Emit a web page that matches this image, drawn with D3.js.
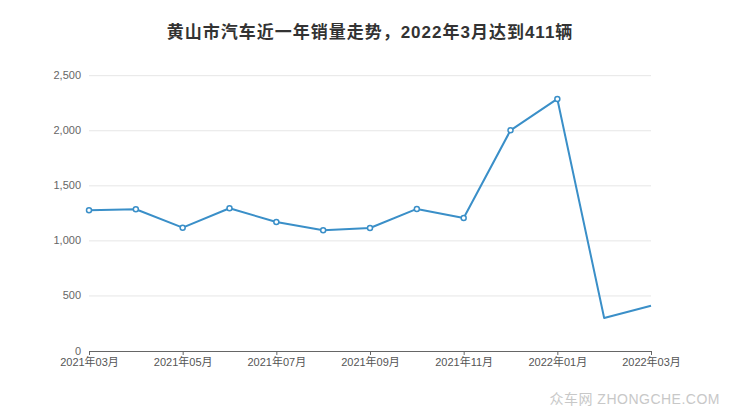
<!DOCTYPE html>
<html><head><meta charset="utf-8">
<script src="https://cdn.jsdelivr.net/npm/d3@7"></script>
<style>body{margin:0;background:#fff}svg{display:block}</style>
</head><body><svg id="c" width="740" height="417"></svg>
<script>
const months = ["2021年03月","2021年04月","2021年05月","2021年06月","2021年07月","2021年08月","2021年09月","2021年10月","2021年11月","2021年12月","2022年01月","2022年02月","2022年03月"];
const sales = [1278,1287,1120,1296,1172,1096,1117,1290,1208,2004,2289,300,411];
const yTicks = [0,500,1000,1500,2000,2500];
const title = "黄山市汽车近一年销量走势，2022年3月达到411辆";

const svg = d3.select("#c");
const font = "'Liberation Sans', Arial, 'Noto Sans CJK SC', sans-serif";
const x = d3.scalePoint().domain(months).range([89, 651]);
const y = d3.scaleLinear().domain([0, 2500]).range([351, 75.7]);

svg.append("text").attr("x", 370).attr("y", 38).attr("text-anchor","middle")
  .attr("font-family", font).attr("font-weight","bold").attr("font-size", 17)
  .attr("letter-spacing", 1).attr("fill","#333").text(title);

// grid
svg.append("g").selectAll("line").data(yTicks.filter(d=>d>0)).join("line")
  .attr("x1", 89).attr("x2", 651).attr("y1", d=>y(d)).attr("y2", d=>y(d))
  .attr("stroke","#e6e6e6").attr("stroke-width",1);

// y labels
svg.append("g").selectAll("text").data(yTicks).join("text")
  .attr("x", 81).attr("y", d=>y(d)).attr("dy","0.32em").attr("text-anchor","end")
  .attr("font-family", font).attr("font-size", 11).attr("fill","#666")
  .text(d=>d3.format(",")(d));

// x axis
const xa = svg.append("g").attr("transform","translate(0,351)")
  .call(d3.axisBottom(x).tickValues(months.filter((d,i)=>i%2===0)).tickSize(4).tickSizeOuter(0));
xa.select(".domain").attr("stroke","#666");
xa.selectAll(".tick line").attr("stroke","#666");
xa.selectAll(".tick text").attr("font-family", font).attr("font-size", 11).attr("fill","#555").attr("y", 7);

// line
const line = d3.line().x((d,i)=>x(months[i])).y(d=>y(d));
svg.append("path").datum(sales).attr("d", line).attr("fill","none")
  .attr("stroke","#3a8fc8").attr("stroke-width",2).attr("stroke-linejoin","round");

svg.append("g").selectAll("circle").data(sales.slice(0,11)).join("circle")
  .attr("cx",(d,i)=>x(months[i])).attr("cy", d=>y(d)).attr("r",2.5)
  .attr("fill","#fff").attr("stroke","#3a8fc8").attr("stroke-width",1.5);

svg.append("text").attr("x", 720).attr("y", 404).attr("text-anchor","end")
  .attr("font-family", font).attr("font-size", 14).attr("letter-spacing", 0.5).attr("fill","#c8c8c8").text("众车网 ZHONGCHE.COM");
</script></body></html>
